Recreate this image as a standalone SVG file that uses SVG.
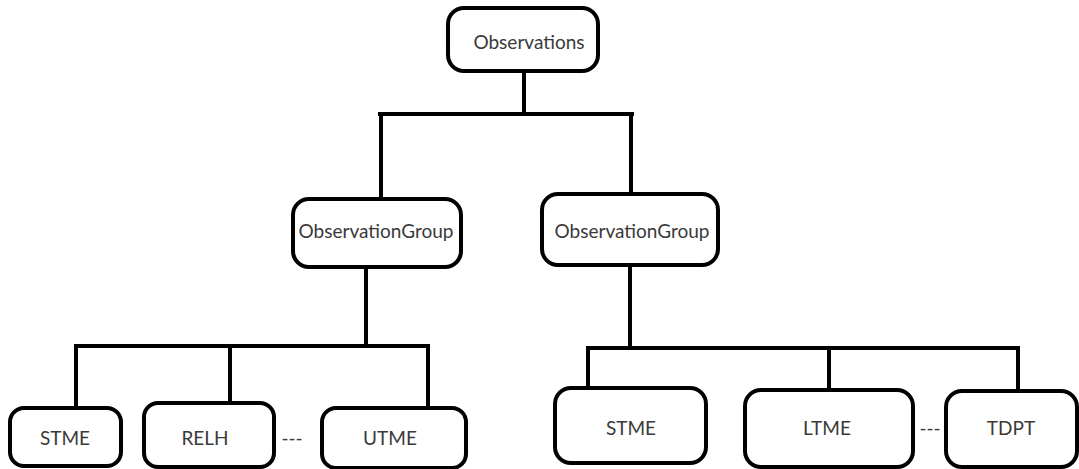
<svg xmlns="http://www.w3.org/2000/svg" width="1079" height="469" viewBox="0 0 1079 469">
<style>
.box{fill:#fff;stroke:#000;stroke-width:4}
.lbl{font-family:Lato,"Open Sans","Liberation Sans",sans-serif;font-size:19px;fill:#3a3a3a;text-anchor:middle}
.con{fill:none;stroke:#000;stroke-width:4;stroke-linecap:square}
</style>
<rect width="1079" height="469" fill="#fff"/>
<g id="connectors">
<path class="con" d="M524 71V114M380 114H632M381 114V199M631 114V194"/>
<path class="con" d="M366 267V346M76 346H428M76 346V408M230 346V403M428 346V408"/>
<path class="con" d="M630 265V348M588 348H1018M588 348V388M829 348V390M1018 348V391"/>
</g>
<g id="observations"><rect class="box" x="448" y="8" width="150" height="63" rx="16"/><text class="lbl" x="529" y="49">Observations</text></g>
<g id="group-left"><rect class="box" x="293" y="199" width="168" height="68" rx="16"/><text class="lbl" x="376" y="238">ObservationGroup</text></g>
<g id="group-right"><rect class="box" x="542" y="194" width="176" height="71" rx="16"/><text class="lbl" x="632" y="238">ObservationGroup</text></g>
<g id="stme-left"><rect class="box" x="10" y="408" width="111" height="58" rx="14"/><text class="lbl" x="65" y="445">STME</text></g>
<g id="relh"><rect class="box" x="144" y="403" width="130" height="64" rx="14"/><text class="lbl" x="205" y="445">RELH</text></g>
<text class="lbl" x="292" y="445">---</text>
<g id="utme"><rect class="box" x="322" y="408" width="144" height="60" rx="14"/><text class="lbl" x="390" y="445">UTME</text></g>
<g id="stme-right"><rect class="box" x="555" y="388" width="151" height="75" rx="16"/><text class="lbl" x="631" y="435">STME</text></g>
<g id="ltme"><rect class="box" x="745" y="390" width="168" height="77" rx="16"/><text class="lbl" x="827" y="435">LTME</text></g>
<text class="lbl" x="930" y="435">---</text>
<g id="tdpt"><rect class="box" x="946" y="391" width="131" height="76" rx="16"/><text class="lbl" x="1011" y="435">TDPT</text></g>
</svg>
